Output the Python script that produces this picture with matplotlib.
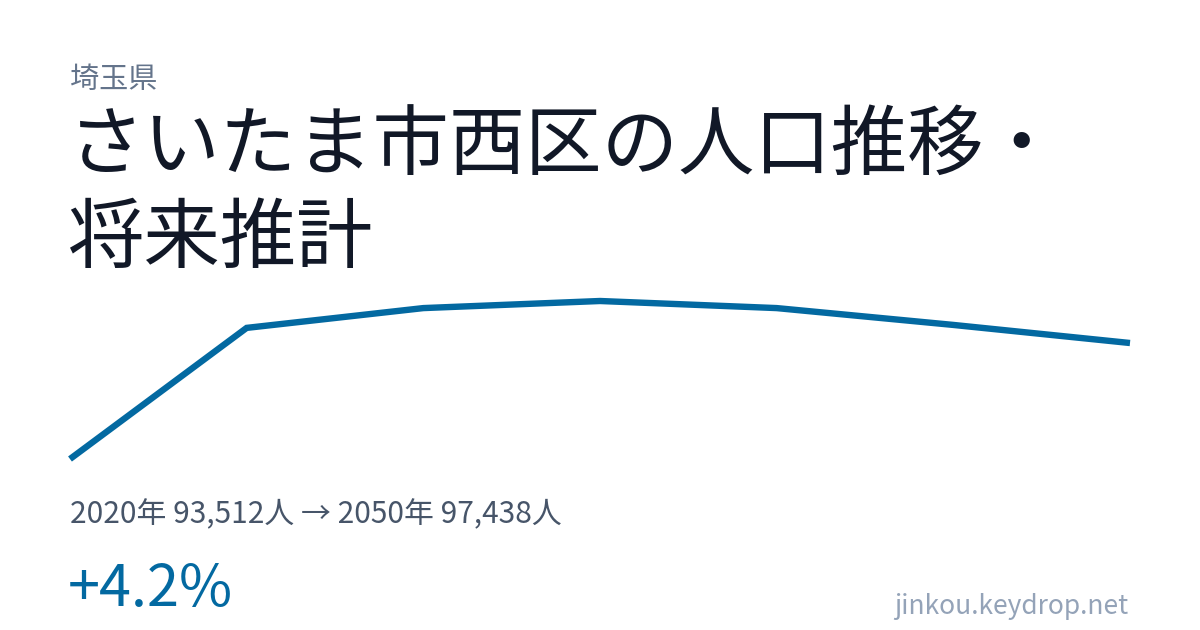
import matplotlib
matplotlib.use("Agg")
import matplotlib.pyplot as plt

plt.rcParams['font.family'] = ['Noto Sans CJK JP', 'DejaVu Sans']

# population projection, saitama-shi nishi-ku
years = [2020, 2025, 2030, 2035, 2040, 2045, 2050]
population = [93512, 97950, 98620, 98860, 98620, 98050, 97438]

prefecture = "埼玉県"
title_lines = ["さいたま市西区の人口推移・", "将来推計"]
summary = "2020年 93,512人 → 2050年 97,438人"
change_label = "+4.2%"
site = "jinkou.keydrop.net"

W, H = 1200, 630
fig = plt.figure(figsize=(W / 100, H / 100), dpi=100)
fig.patch.set_facecolor("white")

# line chart area (pixel box 70..1130 x 301..459)
ax = fig.add_axes([70 / W, 1 - 459 / H, 1060 / W, 158 / H])
ax.plot(years, population, color="#0369a1", lw=4.6, solid_joinstyle="miter",
        solid_capstyle="butt", clip_on=False)
ax.set_xlim(years[0], years[-1])
ax.set_ylim(min(population), max(population))
ax.axis("off")


def put(x, y, s, **kw):
    fig.text(x / W, 1 - y / H, s, **kw)


put(70, 80, prefecture, fontsize=21, color="#64748b", va="center")
put(68, 148, title_lines[0], fontsize=55, color="#111827", va="center")
put(68, 240, title_lines[1], fontsize=55, color="#111827", va="center")
put(70, 515, summary, fontsize=21.5, color="#475569", va="center")
put(68, 590, change_label, fontsize=41.5, color="#0369a1", va="center")
put(1128, 606, site, fontsize=19, color="#94a3b8", va="center", ha="right")

fig.savefig("out.png", dpi=100)
